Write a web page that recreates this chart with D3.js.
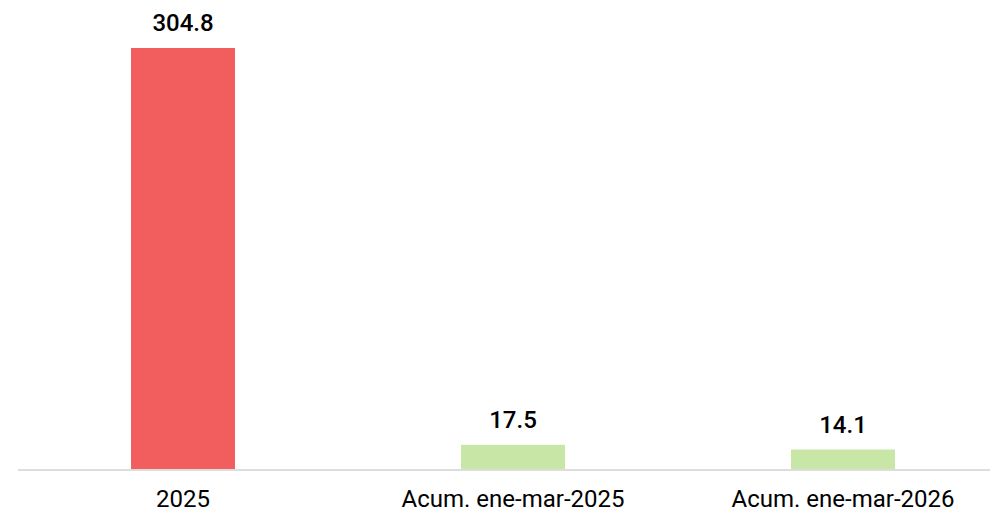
<!DOCTYPE html>
<meta charset="utf-8">
<style>
  body { margin: 0; background: #fff; }
  text { font-family: Roboto, "Noto Sans", sans-serif; fill: #000; }
  .value { font-size: 24px; font-weight: 500; }
  .cat { font-size: 24px; }
</style>
<svg width="990" height="509"></svg>
<script src="https://d3js.org/d3.v7.min.js"></script>
<script>

  var categories = ["2025", "Acum. ene-mar-2025", "Acum. ene-mar-2026"];
  var values = [304.8, 17.5, 14.1];
  var colors = ["#f25e5e", "#c8e6a5", "#c8e6a5"];

  var svg = d3.select("svg"),
    width = +svg.attr("width"),
    height = +svg.attr("height");

  var baseY = 469;

  var x = d3.scaleBand()
    .domain(categories)
    .range([18, 1008])
    .paddingInner(0.685)
    .paddingOuter(0.3425);

  var y = d3.scaleLinear()
    .domain([0, 304.8])
    .range([baseY, 48]);

  // baseline
  svg.append("line")
    .attr("x1", 18).attr("x2", width)
    .attr("y1", baseY + 1).attr("y2", baseY + 1)
    .attr("stroke", "#dddddd")
    .attr("stroke-width", 2);

  svg.append("g")
    .selectAll("rect")
    .data(values)
    .enter().append("rect")
    .attr("x", function (d, i) { return x(categories[i]); })
    .attr("width", x.bandwidth())
    .attr("y", function (d) { return y(d); })
    .attr("height", function (d) { return baseY - y(d); })
    .attr("fill", function (d, i) { return colors[i]; });

  svg.append("g")
    .selectAll("text")
    .data(values)
    .enter().append("text")
    .attr("class", "value")
    .attr("text-anchor", "middle")
    .attr("x", function (d, i) { return x(categories[i]) + x.bandwidth() / 2; })
    .attr("y", function (d) { return y(d) - 17; })
    .text(function (d) { return d.toFixed(1); });

  svg.append("g")
    .selectAll("text")
    .data(categories)
    .enter().append("text")
    .attr("class", "cat")
    .attr("text-anchor", "middle")
    .attr("x", function (d) { return x(d) + x.bandwidth() / 2; })
    .attr("y", 507)
    .text(function (d) { return d; });

</script>
